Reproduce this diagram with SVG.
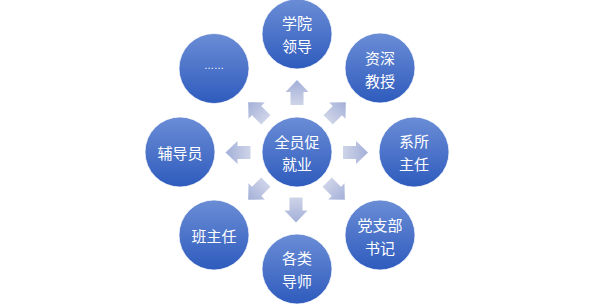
<svg xmlns="http://www.w3.org/2000/svg" xmlns:xlink="http://www.w3.org/1999/xlink" width="594" height="304" viewBox="0 0 594 304">
<style>
.n{fill:url(#cg);stroke:#ffffff;stroke-opacity:0.7;stroke-width:1}
.t{fill:#ffffff;font-family:"Noto Sans CJK SC","Microsoft YaHei",sans-serif;font-size:15px;text-anchor:middle;dominant-baseline:central}
.d{fill:#ffffff;font-family:"Liberation Sans",sans-serif;font-size:10px;text-anchor:middle}
</style>
<defs>
<linearGradient id="cg" x1="0" y1="0" x2="0" y2="1">
<stop offset="0" stop-color="#6b8dd6"/>
<stop offset="1" stop-color="#2e5bbd"/>
</linearGradient>
<linearGradient id="ag" gradientUnits="userSpaceOnUse" x1="0" y1="12.5" x2="0" y2="-12.5">
<stop offset="0" stop-color="#ced4e8"/>
<stop offset="1" stop-color="#a3afd8"/>
</linearGradient>
<path id="arr" d="M0,-12.5 L11.5,-0.5 L6.5,-0.5 L6.5,12.5 L-6.5,12.5 L-6.5,-0.5 L-11.5,-0.5 Z" fill="url(#ag)"/>
</defs>
<rect width="594" height="304" fill="#ffffff"/>
<g id="connectors">
<use xlink:href="#arr" transform="translate(297,92.5)"/>
<use xlink:href="#arr" transform="translate(337,111) rotate(45)"/>
<use xlink:href="#arr" transform="translate(355.5,152.5) rotate(90)"/>
<use xlink:href="#arr" transform="translate(336,191) rotate(135)"/>
<use xlink:href="#arr" transform="translate(296,210) rotate(180)"/>
<use xlink:href="#arr" transform="translate(257,191) rotate(225)"/>
<use xlink:href="#arr" transform="translate(238,152.5) rotate(270)"/>
<use xlink:href="#arr" transform="translate(257,111) rotate(315)"/>
</g>
<g id="center"><circle class="n" cx="297" cy="152" r="35"/><text class="t" x="297" y="141">全员促</text><text class="t" x="297" y="163">就业</text></g>
<g id="top"><circle class="n" cx="297" cy="34" r="35"/><text class="t" x="297" y="22.5">学院</text><text class="t" x="297" y="45.5">领导</text></g>
<g id="topright"><circle class="n" cx="380" cy="68" r="35"/><text class="t" x="380" y="57">资深</text><text class="t" x="380" y="80">教授</text></g>
<g id="right"><circle class="n" cx="414" cy="152" r="35"/><text class="t" x="414" y="140.5">系所</text><text class="t" x="414" y="163.5">主任</text></g>
<g id="bottomright"><circle class="n" cx="380" cy="235" r="35"/><text class="t" x="380" y="224">党支部</text><text class="t" x="380" y="247">书记</text></g>
<g id="bottom"><circle class="n" cx="297" cy="269" r="35"/><text class="t" x="297" y="257.5">各类</text><text class="t" x="297" y="280.5">导师</text></g>
<g id="bottomleft"><circle class="n" cx="214" cy="235" r="35"/><text class="t" x="214" y="235">班主任</text></g>
<g id="left"><circle class="n" cx="180" cy="152" r="35"/><text class="t" x="180" y="152">辅导员</text></g>
<g id="topleft"><circle class="n" cx="214" cy="68.5" r="35"/><text class="d" x="214" y="69">……</text></g>
</svg>
